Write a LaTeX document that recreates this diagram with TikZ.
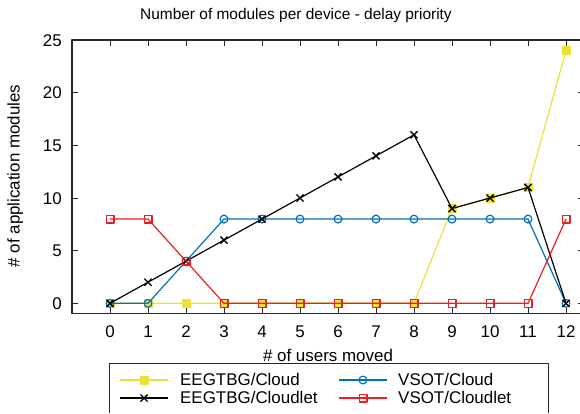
\documentclass[tikz,border=0pt]{standalone}
\usepackage{fontspec}
\setmainfont{Liberation Sans}
\usetikzlibrary{plotmarks}
\definecolor{cyellow}{RGB}{237,224,57}
\definecolor{cblue}{RGB}{0,114,189}
\definecolor{cred}{RGB}{236,30,36}
\definecolor{cframe}{RGB}{40,40,40}
\begin{document}
\begin{tikzpicture}[x=1bp,y=-1bp,line join=round,
  frame/.style={line width=1.1bp,cframe},
  tickmark/.style={line width=0.9bp,cframe},
  series/.style={line width=1.2bp,mark size=3.9bp,mark options={solid,line width=1.2bp}},
  xmarks/.style={mark=x,mark size=5bp,mark options={solid,line width=1.4bp}},
  lbl/.style={font=\fontsize{17}{20}\selectfont,inner sep=0pt}]
\useasboundingbox (0,0) rectangle (580,413);

% axes frame
\coordinate (tl) at (72,40);
\coordinate (tr) at (583.5,40);
\coordinate (bl) at (72,313.8);
\coordinate (br) at (583.5,313.8);
\draw[frame] (tr) -- (tl) -- (bl) -- (br) -- cycle;

% x ticks and labels
\foreach \i in {0,...,12}{
  \draw[tickmark] ({110+38*\i},313.8) -- ++(0,-5.5);
  \draw[tickmark] ({110+38*\i},40) -- ++(0,5.5);
  \node[lbl,anchor=base] (xt\i) at ({110+38*\i},337.5) {\i};
}
% y ticks and labels
\foreach \v in {0,5,...,25}{
  \draw[tickmark] (72,{303.3-10.53*\v}) -- ++(5.5,0);
  \draw[tickmark] (583.5,{303.3-10.53*\v}) -- ++(-5.5,0);
  \node[lbl,anchor=base east] (yt\v) at (62,{309.3-10.53*\v}) {\v};
}

% titles
\node[font=\fontsize{15.5}{18}\selectfont,inner sep=0pt,anchor=base] (title) at (296,19.5)
  {Number of modules per device - delay priority};
\node[lbl,anchor=base,rotate=90] (ylab) at (19.5,176) {\# of application modules};
\node[lbl,anchor=base] (xlab) at (328,361) {\# of users moved};

% data series
\begin{scope}[shift={(110,303.3)},x=38bp,y=10.53bp]
  \draw[series,cyellow,mark=square*] plot coordinates
    {(0,0) (1,0) (2,0) (3,0) (4,0) (5,0) (6,0) (7,0) (8,0) (9,9) (10,10) (11,11) (12,24)};
  \draw[series,cblue,mark=o] plot coordinates
    {(0,0) (1,0) (2,4) (3,8) (4,8) (5,8) (6,8) (7,8) (8,8) (9,8) (10,8) (11,8) (12,0)};
  \draw[series,black,xmarks] plot coordinates
    {(0,0) (1,2) (2,4) (3,6) (4,8) (5,10) (6,12) (7,14) (8,16) (9,9) (10,10) (11,11) (12,0)};
  \draw[series,cred,mark=square] plot coordinates
    {(0,8) (1,8) (2,4) (3,0) (4,0) (5,0) (6,0) (7,0) (8,0) (9,0) (10,0) (11,0) (12,8)};
\end{scope}

% legend
\draw[line width=1bp,cframe] (109,413) -- (109,363) -- (548,363) -- (548,413);
\coordinate (la1) at (120,380); \coordinate (lm1) at (144,380); \coordinate (lb1) at (168,380);
\coordinate (la2) at (120,398); \coordinate (lm2) at (144,398); \coordinate (lb2) at (168,398);
\coordinate (la3) at (339,380); \coordinate (lm3) at (363,380); \coordinate (lb3) at (387,380);
\coordinate (la4) at (339,398); \coordinate (lm4) at (363,398); \coordinate (lb4) at (387,398);
\draw[series,cyellow,mark=square*,mark indices={2}] plot coordinates {(la1) (lm1) (lb1)};
\draw[series,black,xmarks,mark indices={2}] plot coordinates {(la2) (lm2) (lb2)};
\draw[series,cblue,mark=o,mark indices={2}] plot coordinates {(la3) (lm3) (lb3)};
\draw[series,cred,mark=square,mark indices={2}] plot coordinates {(la4) (lm4) (lb4)};
\node[lbl,anchor=base west] (leg1) at (180,385) {EEGTBG/Cloud};
\node[lbl,anchor=base west] (leg2) at (180,403) {EEGTBG/Cloudlet};
\node[lbl,anchor=base west] (leg3) at (398,385) {VSOT/Cloud};
\node[lbl,anchor=base west] (leg4) at (398,403) {VSOT/Cloudlet};
\end{tikzpicture}
\end{document}
